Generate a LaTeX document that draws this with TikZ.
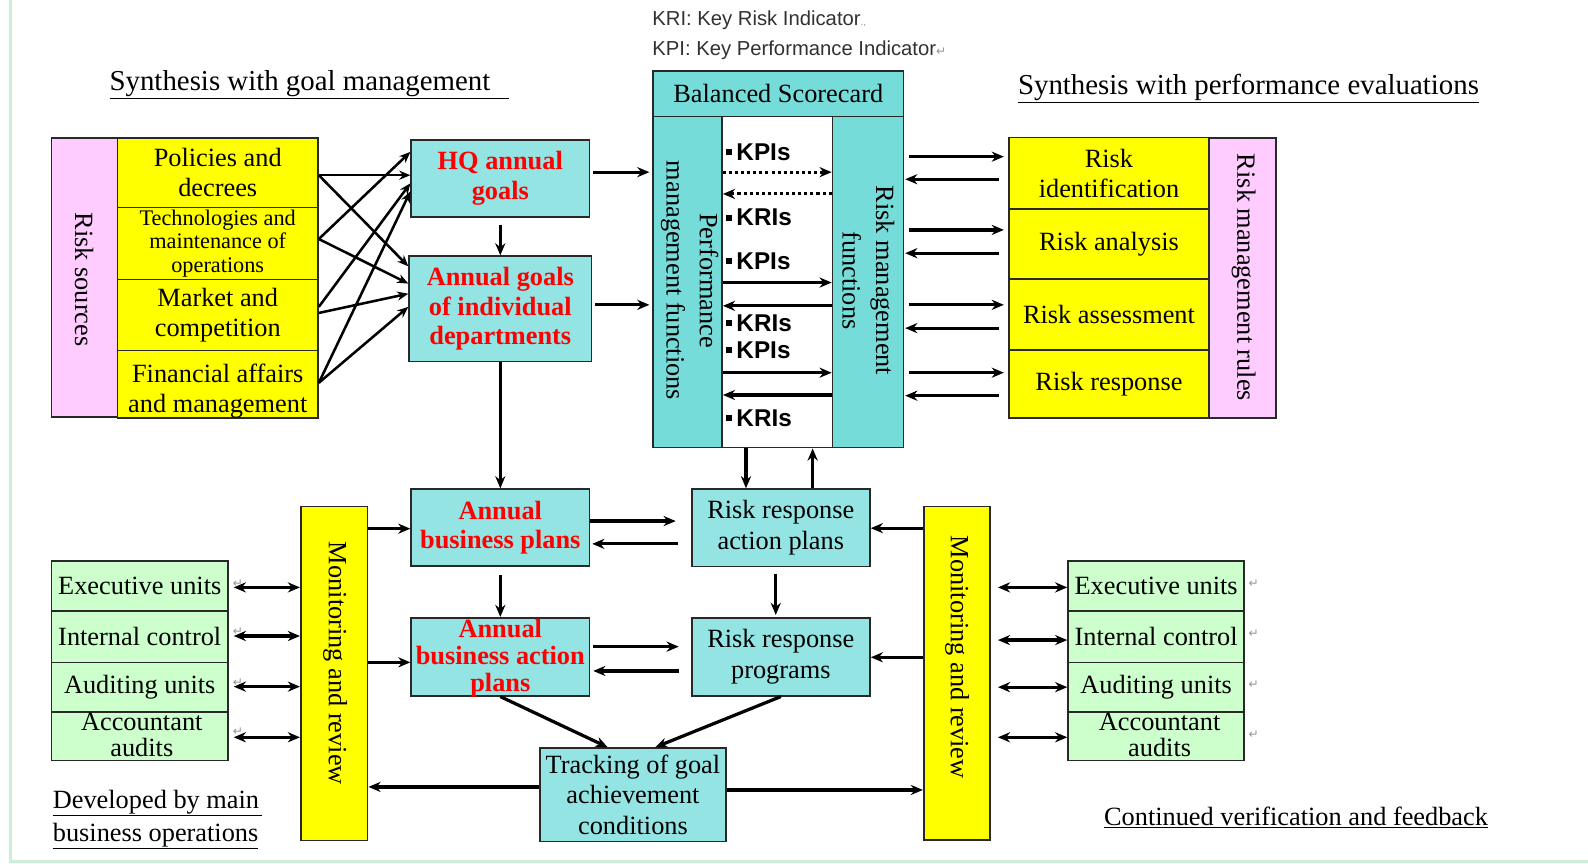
\documentclass[tikz,border=0pt]{standalone}
\usepackage{fontspec}
\setmainfont{Liberation Serif}
\newfontfamily\arialf{Liberation Sans}
\newfontfamily\djv{DejaVu Sans}
\usetikzlibrary{arrows.meta}
\definecolor{pinkc}{RGB}{255,204,255}
\definecolor{yelc}{RGB}{255,255,0}
\definecolor{tealc}{RGB}{118,220,218}
\definecolor{cyanc}{RGB}{148,228,228}
\definecolor{grnc}{RGB}{204,255,204}
\definecolor{edgec}{RGB}{40,40,40}
\definecolor{redc}{RGB}{255,0,0}
\definecolor{markc}{RGB}{150,150,150}
\definecolor{framec}{RGB}{205,238,215}
\definecolor{legc}{RGB}{50,50,50}
\begin{document}
\begin{tikzpicture}[x=1pt,y=-1pt,
  box/.style={draw=edgec,line width=1.6pt,inner sep=0pt,align=center,text=black},
  body/.style={font=\fontsize{26}{30}\selectfont},
  redb/.style={font=\fontsize{26}{29}\selectfont\bfseries,text=redc},
  rtxt/.style={rotate=-90,inner sep=0pt,align=center},
  arr/.style={line width=3.2pt,-{Stealth[length=12pt,width=10pt]}},
  xarr/.style={line width=2.5pt,-{Stealth[length=11pt,width=9pt]}},
  darr/.style={line width=3.2pt,{Stealth[length=12pt,width=10pt]}-{Stealth[length=12pt,width=10pt]}},
  dotarr/.style={line width=3pt,dash pattern=on 3pt off 3pt,-{Stealth[length=12pt,width=10pt]}},
  kx/.style={font=\arialf\bfseries\fontsize{24}{26}\selectfont,anchor=west,inner sep=0pt},
  ttl/.style={anchor=base west,inner sep=0pt,align=left},
  retm/.style={font=\djv\fontsize{12}{12}\selectfont,text=markc,inner sep=0pt}
]
\useasboundingbox (0,0) rectangle (1568,853);
\fill[white] (0,0) rectangle (1568,853);
\draw[framec,line width=3pt] (10,0) -- (10,851) -- (1568,851);

% legend
\node[anchor=west,inner sep=0pt,font=\arialf\fontsize{20}{22}\selectfont,text=legc] (kri) at (644,20) {KRI: Key Risk Indicator\textcolor{markc}{\fontsize{10}{10}\selectfont.,}};
\node[anchor=west,inner sep=0pt,font=\arialf\fontsize{20}{22}\selectfont,text=legc] (kpi) at (644,50) {KPI: Key Performance Indicator\textcolor{markc}{\djv\fontsize{12}{12}\selectfont↵}};

% titles
\node[ttl,font=\fontsize{28.5}{30}\selectfont] (t1) at (108,89) {\underline{Synthesis with goal management\hspace{18pt}}};
\node[ttl,font=\fontsize{28.5}{30}\selectfont] (t2) at (1005,93) {\underline{Synthesis with performance evaluations}};
\node[ttl,font=\fontsize{26}{30}\selectfont] (t3) at (1090,815) {\underline{Continued verification and feedback}};
\node[ttl,font=\fontsize{26}{33}\selectfont] (t4) at (52,831) {\underline{Developed by main\hspace{3pt}}\\\underline{business operations}};

% left block
\node[box,fill=pinkc,minimum width=65,minimum height=276] (rs) at (83.5,274) {};
\node[rtxt,body] (rst) at (83,276) {Risk sources};
\node[box,fill=yelc,minimum width=198,minimum height=69,body] (pol) at (215,170.5) {Policies and\\decrees};
\node[box,fill=yelc,minimum width=198,minimum height=71,font=\fontsize{22}{23.5}\selectfont] (tech) at (215,240.5) {Technologies and\\maintenance of\\operations};
\node[box,fill=yelc,minimum width=198,minimum height=70,body] (mkt) at (215,311) {Market and\\competition};
\node[box,fill=yelc,minimum width=198,minimum height=66.5] (fin) at (215,379.4) {};
\node[body,align=center,inner sep=0pt] (fint) at (215,386) {Financial affairs\\and management};

% goals
\node[box,fill=cyanc,minimum width=176,minimum height=76,redb] (hq) at (494,176) {HQ annual\\goals};
\node[box,fill=cyanc,minimum width=180,minimum height=104,redb] (ag) at (494,305) {Annual goals\\of individual\\departments};

% balanced scorecard
\node[box,fill=tealc,minimum width=247,minimum height=45,body] (bsch) at (768.5,92.5) {Balanced Scorecard};
\node[box,fill=tealc,minimum width=68,minimum height=327] (pmf) at (679,278.5) {};
\node[box,fill=white,minimum width=109,minimum height=327] (mid) at (767.5,278.5) {};
\node[box,fill=tealc,minimum width=70,minimum height=327] (rmf) at (857,278.5) {};
\node[rtxt,font=\fontsize{26}{33}\selectfont] (pmft) at (681,277) {Performance\\management functions};
\node[rtxt,font=\fontsize{26}{33}\selectfont] (rmft) at (857.5,277) {Risk management\\functions};

\node[kx] (k1) at (717,150) {\rule[5pt]{6pt}{6pt}\,KPIs};
\node[kx] (k2) at (717,215) {\rule[5pt]{6pt}{6pt}\,KRIs};
\node[kx] (k3) at (717,258) {\rule[5pt]{6pt}{6pt}\,KPIs};
\node[kx] (k4) at (717,319) {\rule[5pt]{6pt}{6pt}\,KRIs};
\node[kx] (k5) at (717,345.5) {\rule[5pt]{6pt}{6pt}\,KPIs};
\node[kx] (k6) at (717,413) {\rule[5pt]{6pt}{6pt}\,KRIs};

\draw[dotarr] (pmf.east |- 0,170) -- (rmf.west |- 0,170);
\draw[dotarr] (rmf.west |- 0,191.5) -- (pmf.east |- 0,191.5);
\draw[arr] (pmf.east |- 0,279) -- (rmf.west |- 0,279);
\draw[arr] (rmf.west |- 0,302) -- (pmf.east |- 0,302);
\draw[arr] (pmf.east |- 0,368) -- (rmf.west |- 0,368);
\draw[arr] (rmf.west |- 0,390) -- (pmf.east |- 0,390);

% right block
\node[box,fill=yelc,minimum width=198,minimum height=70.5,body] (rid) at (1095,171.2) {Risk\\identification};
\node[box,fill=yelc,minimum width=198,minimum height=69,body] (ran) at (1095,241) {Risk analysis};
\node[box,fill=yelc,minimum width=198,minimum height=70,body] (ras) at (1095,310.6) {Risk assessment};
\node[box,fill=yelc,minimum width=198,minimum height=67,body] (rre) at (1095,379.1) {Risk response};
\node[box,fill=pinkc,minimum width=66,minimum height=276.7] (rmr) at (1227,274.4) {};
\node[rtxt,body] (rmrt) at (1228,274) {Risk management rules};

\draw[arr,shorten <=5pt,shorten >=4pt] (rmf.east |- 0,154.7) -- (rid.west |- 0,154.7);
\draw[arr,shorten <=9pt,shorten >=1pt] (rid.west |- 0,177) -- (rmf.east |- 0,177);
\draw[arr,shorten <=5pt,shorten >=4pt] (rmf.east |- 0,227) -- (ran.west |- 0,227);
\draw[arr,shorten <=9pt,shorten >=1pt] (ran.west |- 0,250) -- (rmf.east |- 0,250);
\draw[arr,shorten <=5pt,shorten >=4pt] (rmf.east |- 0,301) -- (ras.west |- 0,301);
\draw[arr,shorten <=9pt,shorten >=1pt] (ras.west |- 0,324) -- (rmf.east |- 0,324);
\draw[arr,shorten <=5pt,shorten >=4pt] (rmf.east |- 0,368) -- (rre.west |- 0,368);
\draw[arr,shorten <=9pt,shorten >=1pt] (rre.west |- 0,390.7) -- (rmf.east |- 0,390.7);

% cross arrows left
\draw[xarr] (pol.east |- 0,173) -- (hq.west |- 0,173);
\draw[xarr] (pol.east |- 0,173) -- (ag.west |- 0,263);
\draw[xarr] (tech.east |- 0,236) -- (hq.west |- 0,150);
\draw[xarr] (tech.east |- 0,236) -- (ag.west |- 0,280);
\draw[xarr] (mkt.east |- 0,303) -- (hq.west |- 0,181);
\draw[xarr] (mkt.east |- 0,309) -- (ag.west |- 0,290);
\draw[xarr] (fin.east |- 0,378) -- (hq.west |- 0,189);
\draw[xarr] (fin.east |- 0,378) -- (ag.west |- 0,303);

\draw[arr,shorten <=3pt,shorten >=3pt] (hq.east |- 0,170) -- (pmf.west |- 0,170);
\draw[arr,shorten <=3pt,shorten >=3pt] (ag.east |- 0,301) -- (pmf.west |- 0,301);
\draw[arr,shorten <=7pt] (hq.south) -- (ag.north);

% bottom boxes
\node[box,fill=cyanc,minimum width=176,minimum height=76,redb] (abp) at (494,521) {Annual\\business plans};
\node[box,fill=cyanc,minimum width=176,minimum height=77] (abap) at (494,648.5) {};
\node[align=center,inner sep=0pt,font=\fontsize{26}{26.5}\selectfont\bfseries,text=redc] (abapt) at (494,650) {Annual\\business action\\plans};
\node[box,fill=cyanc,minimum width=176,minimum height=76.5,font=\fontsize{26}{31}\selectfont] (rrap) at (771,521.2) {Risk response\\action plans};
\node[box,fill=cyanc,minimum width=176,minimum height=77,font=\fontsize{26}{31}\selectfont] (rrp) at (771,648.5) {Risk response\\programs};
\node[box,fill=cyanc,minimum width=184,minimum height=92.4,font=\fontsize{26}{30.5}\selectfont] (trk) at (625,784.8) {Tracking of goal\\achievement\\conditions};

\node[box,fill=yelc,minimum width=66,minimum height=330] (mrl) at (330,665) {};
\node[rtxt,body] (mrlt) at (331,655) {Monitoring and review};
\node[box,fill=yelc,minimum width=65.5,minimum height=329.5] (mrr) at (944.8,664.8) {};
\node[rtxt,body] (mrrt) at (945,649) {Monitoring and review};

% green left
\node[box,fill=grnc,minimum width=174,minimum height=49,body] (ex1) at (138,578.5) {Executive units};
\node[box,fill=grnc,minimum width=174,minimum height=51,body] (ic1) at (138,628.5) {Internal control};
\node[box,fill=grnc,minimum width=174,minimum height=49,body] (au1) at (138,678.5) {Auditing units};
\node[box,fill=grnc,minimum width=174,minimum height=48] (ac1) at (138,727) {};
\node[align=center,inner sep=0pt,font=\fontsize{26}{26}\selectfont] (ac1t) at (140,726) {Accountant\\audits};
% green right
\node[box,fill=grnc,minimum width=174,minimum height=49,body] (ex2) at (1141.6,578.5) {Executive units};
\node[box,fill=grnc,minimum width=174,minimum height=51,body] (ic2) at (1141.6,628.5) {Internal control};
\node[box,fill=grnc,minimum width=174,minimum height=49,body] (au2) at (1141.6,678.5) {Auditing units};
\node[box,fill=grnc,minimum width=174,minimum height=48] (ac2) at (1141.6,727) {};
\node[align=center,inner sep=0pt,font=\fontsize{26}{26}\selectfont] (ac2t) at (1145,726) {Accountant\\audits};

% return marks
\node[retm] (r1) at (1238,576) {↵};
\node[retm] (r2) at (1238,626) {↵};
\node[retm] (r3) at (1238,676) {↵};
\node[retm] (r4) at (1238,725) {↵};
\node[retm] (l1) at (235,576) {↵};
\node[retm] (l2) at (235,624) {↵};
\node[retm] (l3) at (235,674) {↵};
\node[retm] (l4) at (235,722) {↵};

% bottom arrows
\draw[arr] (ag.south) -- (abp.north);
\draw[arr,shorten <=8pt] (abp.south) -- (abap.north);
\draw[arr,shorten >=15pt] (abp.east |- 0,514.5) -- (rrap.west |- 0,514.5);
\draw[arr,shorten <=13pt,shorten >=2pt] (rrap.west |- 0,537) -- (abp.east |- 0,537);
\draw[arr,shorten <=3pt,shorten >=12pt] (abap.east |- 0,638.5) -- (rrp.west |- 0,638.5);
\draw[arr,shorten <=12pt,shorten >=3pt] (rrp.west |- 0,662.5) -- (abap.east |- 0,662.5);
\draw[arr,shorten <=7pt,shorten >=2pt] (rrap.south -| 766,0) -- (rrp.north -| 766,0);
\draw[arr] (mid.south -| 736.6,0) -- (rrap.north -| 736.6,0);
\draw[arr] (rrap.north -| 802.4,0) -- (mid.south -| 802.4,0);
\draw[arr] (abap.south) -- (trk.north -| 600,0);
\draw[arr] (rrp.south) -- (trk.north -| 647,0);
\draw[arr] (trk.west |- 0,777) -- (mrl.east |- 0,777);
\draw[arr] (trk.east |- 0,780) -- (mrr.west |- 0,780);
\draw[arr] (mrr.west |- 0,521.5) -- (rrap.east |- 0,521.5);
\draw[arr] (mrr.west |- 0,649) -- (rrp.east |- 0,649);
\draw[arr] (mrl.east |- 0,522) -- (abp.west |- 0,522);
\draw[arr] (mrl.east |- 0,654) -- (abap.west |- 0,654);

\draw[darr,shorten <=5pt] (ex1.east |- 0,580) -- (mrl.west |- 0,580);
\draw[darr,shorten <=5pt] (ic1.east |- 0,628) -- (mrl.west |- 0,628);
\draw[darr,shorten <=5pt] (au1.east |- 0,678) -- (mrl.west |- 0,678);
\draw[darr,shorten <=5pt] (ac1.east |- 0,728) -- (mrl.west |- 0,728);
\draw[darr,shorten <=7pt] (mrr.east |- 0,580) -- (ex2.west |- 0,580);
\draw[darr,shorten <=7pt] (mrr.east |- 0,632) -- (ic2.west |- 0,632);
\draw[darr,shorten <=7pt] (mrr.east |- 0,678.5) -- (au2.west |- 0,678.5);
\draw[darr,shorten <=7pt] (mrr.east |- 0,728) -- (ac2.west |- 0,728);
\end{tikzpicture}
\end{document}
